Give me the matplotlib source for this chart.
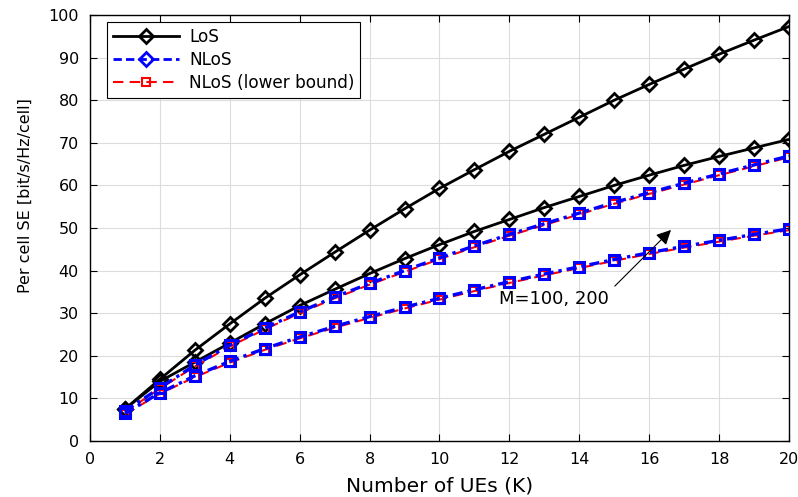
import matplotlib
matplotlib.use("Agg")
import matplotlib.pyplot as plt
from matplotlib.lines import Line2D

K = list(range(1, 21))
los_200 = [7.5, 14.5, 21.3, 27.5, 33.5, 39.0, 44.3, 49.5, 54.5, 59.3, 63.7, 68.0, 72.0, 76.0, 80.0, 83.7, 87.3, 90.8, 94.1, 97.3]
los_100 = [7.5, 14.0, 18.5, 23.0, 27.5, 31.8, 35.6, 39.3, 42.8, 46.1, 49.2, 52.0, 54.8, 57.4, 60.0, 62.4, 64.7, 66.8, 68.8, 70.8]
nlos_200 = [7.0, 12.5, 17.8, 22.5, 26.5, 30.3, 33.8, 37.0, 40.0, 43.0, 45.8, 48.5, 51.0, 53.5, 56.0, 58.3, 60.5, 62.7, 64.8, 66.9]
nlos_100 = [6.5, 11.3, 15.3, 18.7, 21.7, 24.4, 26.9, 29.2, 31.4, 33.5, 35.5, 37.4, 39.2, 40.9, 42.6, 44.2, 45.7, 47.1, 48.5, 49.8]
lb_200 = [6.8, 12.3, 17.5, 22.2, 26.2, 30.0, 33.5, 36.7, 39.7, 42.7, 45.5, 48.2, 50.7, 53.2, 55.7, 58.0, 60.2, 62.4, 64.5, 66.6]
lb_100 = [6.3, 11.1, 15.0, 18.4, 21.4, 24.1, 26.6, 28.9, 31.1, 33.2, 35.2, 37.1, 38.9, 40.6, 42.3, 43.9, 45.4, 46.8, 48.2, 49.5]

plt.rcParams['font.family'] = ['DejaVu Sans']
fig = plt.figure(figsize=(7.98, 4.97), dpi=100)
ax = fig.add_axes([0.1128, 0.1127, 0.8759, 0.8571])

los_kw = dict(color='black', linestyle='-', linewidth=2, marker='D', markersize=7,
              markerfacecolor='none', markeredgewidth=2)
nlos_kw = dict(color='blue', linestyle=(0, (3, 1.5, 1, 1.5)), linewidth=2.4, marker='s', markersize=6.5,
               markerfacecolor='none', markeredgewidth=2.2)
lb_kw = dict(color='red', linestyle=(0, (5, 3)), linewidth=1.5, marker='s', markersize=6,
             markerfacecolor='none', markeredgewidth=1.5)

ax.plot(K, los_200, **los_kw)
ax.plot(K, los_100, **los_kw)
ax.plot(K, lb_200, zorder=2, **lb_kw)
ax.plot(K, lb_100, zorder=2, **lb_kw)
ax.plot(K, nlos_200, zorder=3, **nlos_kw)
ax.plot(K, nlos_100, zorder=3, **nlos_kw)

ax.set_xlim(0, 20)
ax.set_ylim(0, 100)
ax.set_xticks(range(0, 21, 2))
ax.set_yticks(range(0, 101, 10))
ax.grid(True, color='#dcdcdc', linewidth=0.8)
ax.set_axisbelow(True)
ax.tick_params(direction='in', top=True, right=True, labelsize=11.5, length=5, pad=8)
for s in ax.spines.values():
    s.set_linewidth(1.0)
ax.set_xlabel('Number of UEs (K)', fontsize=14.5, labelpad=6.5)
ax.set_ylabel('Per cell SE [bit/s/Hz/cell]', fontsize=11.5)
ax.yaxis.set_label_coords(-0.082, 0.577)

handles = [
    Line2D([], [], color='black', linestyle='-', linewidth=2, marker='D', markersize=7,
           markerfacecolor='none', markeredgewidth=2),
    Line2D([], [], color='blue', linestyle=(0, (3, 1.5)), linewidth=2, marker='D', markersize=7,
           markerfacecolor='none', markeredgewidth=2),
    Line2D([], [], color='red', linestyle=(0, (5, 3)), linewidth=1.5, marker='s', markersize=6,
           markerfacecolor='none', markeredgewidth=1.5),
]
labels = ['LoS', 'NLoS', 'NLoS (lower bound)']
leg = ax.legend(handles, labels, loc='upper left', bbox_to_anchor=(0.0243, 0.9836),
                fontsize=12.2, fancybox=False, edgecolor='black', framealpha=1,
                handlelength=3.9, handletextpad=0.6, borderaxespad=0.0,
                labelspacing=0.3, borderpad=0.35)
leg.get_frame().set_linewidth(0.8)

ax.annotate('', xy=(16.68, 50), xytext=(14.96, 35.9),
            arrowprops=dict(arrowstyle='-|>', color='black', lw=0.8, mutation_scale=22))
ax.text(11.7, 33.4, 'M=100, 200', fontsize=13, ha='left', va='center')

fig.savefig('out.png', dpi=100)
